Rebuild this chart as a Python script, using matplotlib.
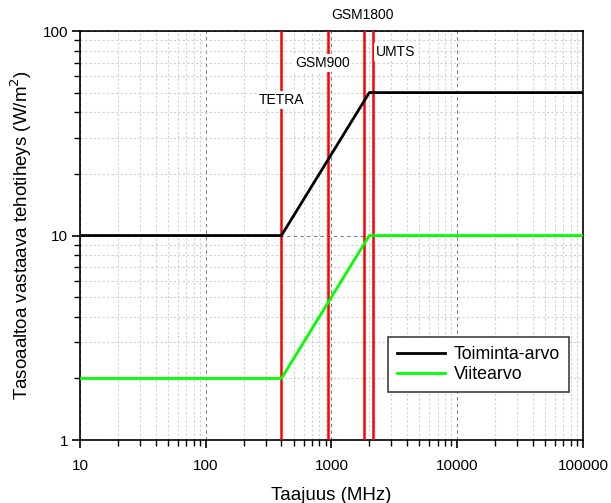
import matplotlib
matplotlib.use('Agg')
import matplotlib.pyplot as plt
from matplotlib.ticker import LogLocator, FixedLocator, FixedFormatter, NullFormatter

plt.rcParams['font.family'] = ['Liberation Sans', 'DejaVu Sans']

# data
freq = [10, 400, 2000, 100000]
toiminta = [10, 10, 50, 50]
viite = [2, 2, 10, 10]

band_names = ['TETRA', 'GSM900', 'GSM1800', 'UMTS']
band_freq = [400, 935, 1800, 2120]
label_x = [400, 855, 1780, 3260]
label_y = [46, 70, 120, 79]

fig = plt.figure(figsize=(6.11, 5.03), dpi=100)
ax = fig.add_axes([0.1309, 0.1252, 0.8232, 0.8131])

ax.set_xscale('log')
ax.set_yscale('log')
ax.set_xlim(10, 100000)
ax.set_ylim(1, 100)

ax.grid(True, which='minor', color='#d0d0d0', linestyle=(0, (2, 2)), linewidth=0.8)
ax.grid(True, which='major', color='#808080', linestyle=(0, (3, 3)), linewidth=0.8)

for f in band_freq:
    ax.axvline(f, color='#ff0000', linewidth=1.8, zorder=3)

ax.plot(freq, toiminta, color='black', linewidth=2, label='Toiminta-arvo', zorder=4)
ax.plot(freq, viite, color='#00ff00', linewidth=2, label='Viitearvo', zorder=4)

for name, x, y in zip(band_names, label_x, label_y):
    ax.text(x, y, name, ha='center', va='center', fontsize=10, zorder=5,
            clip_on=False,
            bbox=dict(facecolor='white', edgecolor='none', pad=1.5))

ax.xaxis.set_major_locator(FixedLocator([10, 100, 1000, 10000, 100000]))
ax.xaxis.set_major_formatter(FixedFormatter(['10', '100', '1000', '10000', '100000']))
ax.xaxis.set_minor_locator(LogLocator(base=10, subs=range(2, 10), numticks=20))
ax.xaxis.set_minor_formatter(NullFormatter())
ax.yaxis.set_major_locator(FixedLocator([1, 10, 100]))
ax.yaxis.set_major_formatter(FixedFormatter(['1', '10', '100']))
ax.yaxis.set_minor_locator(LogLocator(base=10, subs=range(2, 10), numticks=20))
ax.yaxis.set_minor_formatter(NullFormatter())

ax.tick_params(which='both', direction='out', top=False, right=False, labelsize=11)
ax.tick_params(axis='x', which='major', pad=7.5)
ax.tick_params(axis='y', which='major', pad=2.5)
ax.tick_params(which='major', length=6, width=1.2)
ax.tick_params(which='minor', length=4, width=1)
for s in ax.spines.values():
    s.set_linewidth(1.2)

ax.set_xlabel('Taajuus (MHz)', fontsize=13.5, labelpad=10)
ax.set_ylabel('Tasoaaltoa vastaava tehotiheys (W/m$^2$)', fontsize=13.5, labelpad=6)

leg = ax.legend(loc='lower right', bbox_to_anchor=(0.972, 0.117), fontsize=12.8,
                borderaxespad=0, fancybox=False, framealpha=1, edgecolor='#404040',
                handlelength=2.7, handletextpad=0.5, borderpad=0.5,
                labelspacing=0.2)
leg.get_frame().set_linewidth(1.2)
leg.set_zorder(6)

fig.savefig('out.png', dpi=100)
